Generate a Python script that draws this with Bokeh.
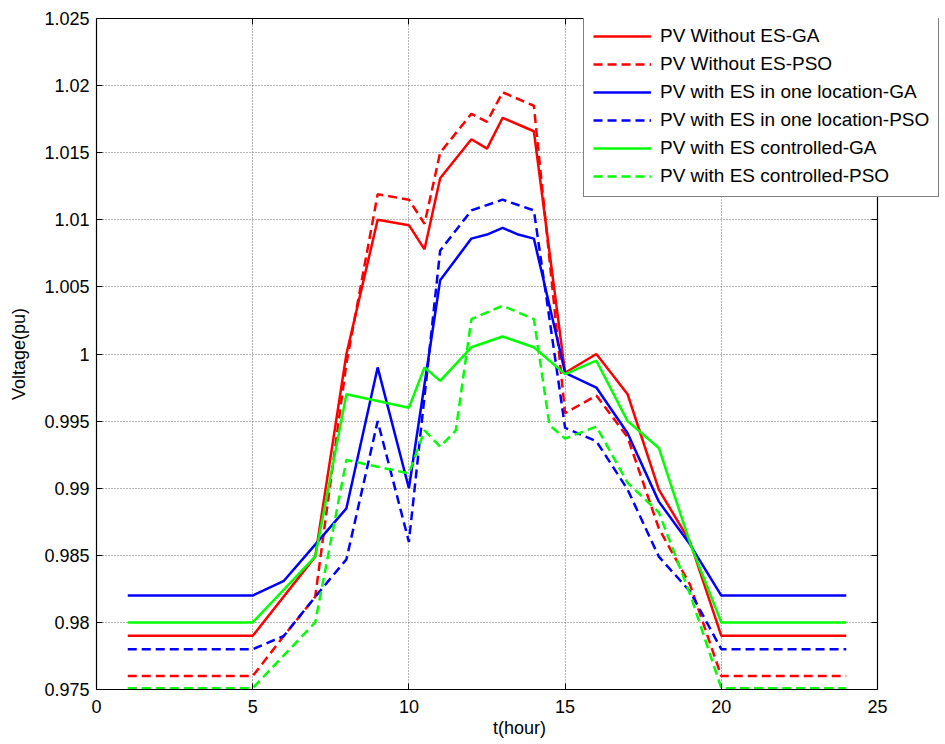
from bokeh.plotting import figure
from bokeh.models import (Range1d, FixedTicker, LinearAxis, Legend, LegendItem,
                          CustomJSTickFormatter)
from bokeh.embed import file_html
from bokeh.resources import INLINE

# ---- data ----
hours_without_ga = [1, 5, 7, 8, 9, 10, 10.5, 11, 12, 12.5, 13, 14, 15, 16, 17, 18, 19, 20, 24]
volt_without_ga = [0.979, 0.979, 0.9849, 1.0000, 1.0100, 1.0096, 1.0078, 1.0131, 1.0160, 1.0153,
                   1.0176, 1.0166, 0.9986, 1.0000, 0.9970, 0.9899, 0.9860, 0.9790, 0.9790]

hours_without_pso = [1, 5, 6, 7, 8, 9, 10, 10.5, 11, 12, 12.5, 13, 14, 15, 16, 17, 18, 19, 20, 24]
volt_without_pso = [0.976, 0.976, 0.9790, 0.9819, 0.9993, 1.0119, 1.0115, 1.0097, 1.0150, 1.0179,
                    1.0173, 1.0195, 1.0185, 0.9956, 0.9969, 0.9938, 0.9870, 0.9828, 0.976, 0.976]

hours_one_ga = [1, 5, 6, 7, 8, 9, 10, 11, 12, 12.5, 13, 13.5, 14, 15, 16, 17, 18, 19, 20, 24]
volt_one_ga = [0.982, 0.982, 0.9831, 0.9858, 0.9885, 0.9990, 0.9900, 1.0055, 1.0086, 1.0089,
               1.0094, 1.0089, 1.0086, 0.9986, 0.9975, 0.9941, 0.9890, 0.9858, 0.982, 0.982]

hours_one_pso = [1, 5, 6, 7, 8, 9, 10, 11, 12, 13, 14, 15, 16, 17, 18, 19, 20, 24]
volt_one_pso = [0.978, 0.978, 0.9790, 0.9819, 0.9847, 0.9950, 0.9860, 1.0077, 1.0107, 1.0115,
                1.0107, 0.9945, 0.9935, 0.9899, 0.9849, 0.9823, 0.978, 0.978]

hours_ctrl_ga = [1, 5, 7, 8, 9, 10, 10.5, 11, 12, 13, 14, 15, 16, 17, 18, 19, 20, 24]
volt_ctrl_ga = [0.980, 0.980, 0.9849, 0.9970, 0.9965, 0.9960, 0.9990, 0.9980, 1.0005, 1.0013,
                1.0005, 0.9985, 0.9995, 0.9950, 0.9930, 0.9859, 0.980, 0.980]

hours_ctrl_pso = [1, 5, 7, 8, 9, 10, 10.5, 11, 11.5, 12, 13, 14, 14.5, 15, 16, 17, 18, 19, 20, 24]
volt_ctrl_pso = [0.9751, 0.9751, 0.9800, 0.9921, 0.9916, 0.9911, 0.9943, 0.9931, 0.9943, 1.0026,
                 1.0036, 1.0026, 0.9947, 0.9937, 0.9946, 0.9904, 0.9882, 0.9821, 0.9751, 0.9751]

series_labels = ["PV Without ES-GA", "PV Without ES-PSO",
                 "PV with ES in one location-GA", "PV with ES in one location-PSO",
                 "PV with ES controlled-GA", "PV with ES controlled-PSO"]

x_ticks = [0, 5, 10, 15, 20, 25]
y_ticks = [0.975, 0.98, 0.985, 0.99, 0.995, 1.0, 1.005, 1.01, 1.015, 1.02, 1.025]

# the legend box overhangs the right edge of the axes box (x = 25), so the
# frame is a little wider than the axes and the axes box is drawn at x = 25
X_AXIS_END = 25
X_FRAME_END = 27.08

FONT = "Liberation Sans"

p = figure(frame_width=846, frame_height=671, output_backend="svg", toolbar_location=None,
           x_range=Range1d(0, X_FRAME_END), y_range=Range1d(0.975, 1.025),
           min_border_left=96, min_border_right=3, min_border_top=18, min_border_bottom=55)
p.background_fill_color = "white"
p.border_fill_color = "white"
p.outline_line_color = None

p.xaxis.ticker = FixedTicker(ticks=x_ticks)
p.yaxis.ticker = FixedTicker(ticks=y_ticks)
p.yaxis.formatter = CustomJSTickFormatter(code="return Number(tick.toFixed(3)).toString();")
p.xaxis.bounds = (0, X_AXIS_END)

for ax in (p.xaxis[0], p.yaxis[0]):
    ax.major_tick_in = 6
    ax.major_tick_out = 0
    ax.minor_tick_in = 0
    ax.minor_tick_out = 0
    ax.axis_line_color = "black"
    ax.axis_line_width = 1.2
    ax.major_tick_line_color = "black"
    ax.major_label_text_font = FONT
    ax.major_label_text_font_size = "18px"
    ax.major_label_text_color = "black"
    ax.axis_label_text_font = FONT
    ax.axis_label_text_font_size = "18px"
    ax.axis_label_text_font_style = "normal"
    ax.axis_label_text_color = "black"

p.xaxis.axis_label = "t(hour)"
p.yaxis.axis_label = "Voltage(pu)"
p.xaxis.major_label_standoff = 10
p.xaxis.axis_label_standoff = 2
p.yaxis.major_label_standoff = 7
p.yaxis.axis_label_standoff = 12

blank = CustomJSTickFormatter(code="return '';")
right_ax = LinearAxis(ticker=FixedTicker(ticks=y_ticks), formatter=blank,
                      fixed_location=X_AXIS_END,
                      major_tick_in=6, major_tick_out=0, minor_tick_in=0, minor_tick_out=0,
                      major_label_text_font_size="0px", axis_line_color="black",
                      axis_line_width=1.2, major_label_standoff=0)
p.add_layout(right_ax, "right")
top_ax = LinearAxis(ticker=FixedTicker(ticks=x_ticks), formatter=blank,
                    bounds=(0, X_AXIS_END),
                    major_tick_in=6, major_tick_out=0, minor_tick_in=0, minor_tick_out=0,
                    major_label_text_font_size="0px", axis_line_color="black",
                    axis_line_width=1.2, major_label_standoff=0)
p.add_layout(top_ax, "above")

for g in (p.xgrid[0], p.ygrid[0]):
    g.grid_line_color = "#6f6f6f"
    g.grid_line_dash = "1 2"
    g.grid_line_width = 1
p.ygrid[0].cross_bounds = (0, X_AXIS_END)

series = [
    (hours_without_ga, volt_without_ga, "#ff0000", "solid"),
    (hours_without_pso, volt_without_pso, "#ff0000", "9 5"),
    (hours_one_ga, volt_one_ga, "#0000ff", "solid"),
    (hours_one_pso, volt_one_pso, "#0000ff", "9 5"),
    (hours_ctrl_ga, volt_ctrl_ga, "#00ff00", "solid"),
    (hours_ctrl_pso, volt_ctrl_pso, "#00ff00", "9 5"),
]

items = []
for (xs, ys, col, dash), lab in zip(series, series_labels):
    r = p.line(xs, ys, line_color=col, line_width=2.5, line_dash=dash)
    items.append(LegendItem(label=lab, renderers=[r]))

legend = Legend(items=items, location=(487, 492), orientation="vertical",
                label_text_font=FONT, label_text_font_size="19px", label_text_color="black",
                glyph_width=58, glyph_height=20, label_height=20, spacing=6,
                padding=9, margin=0, label_standoff=9,
                border_line_color="black", border_line_width=1.2,
                background_fill_color="white", background_fill_alpha=1)
p.add_layout(legend, "center")

open("out.html", "w").write(file_html(p, INLINE))
